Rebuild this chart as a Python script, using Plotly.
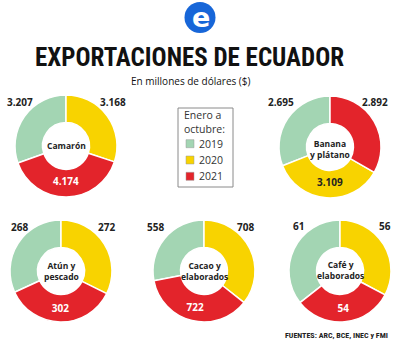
import plotly.graph_objects as go

# ---- data ----
products = ["Camarón", "Banana<br>y plátano", "Atún y<br>pescado", "Cacao y<br>elaborados", "Café y<br>elaborados"]
years = ["2019", "2020", "2021"]
v2019 = [3207, 2695, 268, 558, 61]
v2020 = [3168, 3109, 272, 708, 56]
v2021 = [4174, 2892, 302, 722, 54]
year_colors = ["#a3d5b3", "#f8d300", "#e3242b"]

title_text = "EXPORTACIONES DE ECUADOR"
subtitle_text = "En millones de dólares ($)"
legend_title = "Enero a<br>octubre:"
source_text = "FUENTES: ARC, BCE, INEC y FMI"

# ---- layout helpers (pixels in a 400x350 canvas) ----
W, H = 400, 350
directions = ["clockwise", "counterclockwise", "clockwise", "clockwise", "clockwise"]
inside_idx = [2, 1, 2, 2, 2]          # slice whose value is written inside the ring
centers = [(66, 146), (330, 147), (61, 271), (204, 271), (340, 271)]
label_cy = [145, 149, 271, 271, 270]
R = 51
left_lbl = [(20, 102), (281, 102), (19, 227), (155, 227), (298, 226)]
right_lbl = [(113, 102), (375, 102), (106, 227), (245, 227), (385, 226)]

BOLD = "Open Sans"
COND = "Liberation Sans Narrow, Roboto Condensed, DejaVu Sans Condensed, sans-serif"


def fmt(v):
    return f"{v:,}".replace(",", ".")


def px(x):
    return x / W


def py(y):
    return 1 - y / H


def note(x, y, text, size, family, color="#222222", xanchor="center", weight="normal", align="center"):
    return dict(x=px(x), y=py(y), xref="paper", yref="paper", showarrow=False,
                text=text, font=dict(size=size, family=family, color=color, weight=weight),
                xanchor=xanchor, yanchor="middle", align=align)


fig = go.Figure()
annotations = []
shapes = []

for i, name in enumerate(products):
    vals = [v2019[i], v2020[i], v2021[i]]
    total = sum(vals)
    rot = -360 * vals[0] / total
    text = [fmt(v) if k == inside_idx[i] else "" for k, v in enumerate(vals)]
    tcol = ["#222222", "#222222", "white"]
    cx, cy = centers[i]
    fig.add_trace(go.Pie(
        labels=years, values=vals, sort=False, direction=directions[i], rotation=rot,
        hole=0.46,
        marker=dict(colors=year_colors, line=dict(color="white", width=1.5)),
        text=text, textinfo="text", textposition="inside",
        insidetextorientation="horizontal",
        textfont=dict(color=tcol, size=10, family=BOLD, weight="bold"),
        domain=dict(x=[px(cx - R), px(cx + R)], y=[py(cy + R), py(cy - R)]),
        showlegend=False, hoverinfo="skip",
    ))
    annotations.append(note(cx, label_cy[i], name, 8.5, BOLD, weight="bold"))
    right_val = vals[1] if inside_idx[i] == 2 else vals[2]
    for (lx, ly), v in ((left_lbl[i], vals[0]), (right_lbl[i], right_val)):
        annotations.append(note(lx, ly, fmt(v), 10, BOLD, weight="bold"))

# logo
shapes.append(dict(type="circle", xref="paper", yref="paper",
                   x0=px(184.5), x1=px(215.5), y0=py(33), y1=py(2),
                   fillcolor="#1766d8", line=dict(width=0)))
annotations.append(note(201, 18, "e", 27, "DejaVu Sans", color="white", weight="bold"))

# title / subtitle
annotations.append(note(189, 58, title_text, 25, COND, color="#111111", weight="bold"))
annotations.append(note(191, 81, subtitle_text, 10, "Open Sans", color="#111111"))

# legend box
shapes.append(dict(type="rect", xref="paper", yref="paper",
                   x0=px(178), x1=px(233), y0=py(187), y1=py(108),
                   line=dict(color="#8a8a8a", width=1), fillcolor="white"))
annotations.append(note(181.5, 122.5, legend_title, 10.5, "Open Sans", color="#333333",
                        xanchor="left", align="left"))
for k, yr in enumerate(years):
    yc = 143.7 + 16.3 * k
    shapes.append(dict(type="rect", xref="paper", yref="paper",
                       x0=px(186), x1=px(194), y0=py(yc + 4), y1=py(yc - 4),
                       fillcolor=year_colors[k], line=dict(color="#999999", width=0.5)))
    annotations.append(note(197, yc, yr, 10.5, "Open Sans", color="#333333", xanchor="left"))

# source
annotations.append(note(390, 335, source_text, 8, COND, xanchor="right", weight="bold"))

fig.update_layout(
    width=W, height=H, margin=dict(l=0, r=0, t=0, b=0),
    paper_bgcolor="white", plot_bgcolor="white",
    annotations=annotations, shapes=shapes, showlegend=False,
)

fig.write_html("out.html")
